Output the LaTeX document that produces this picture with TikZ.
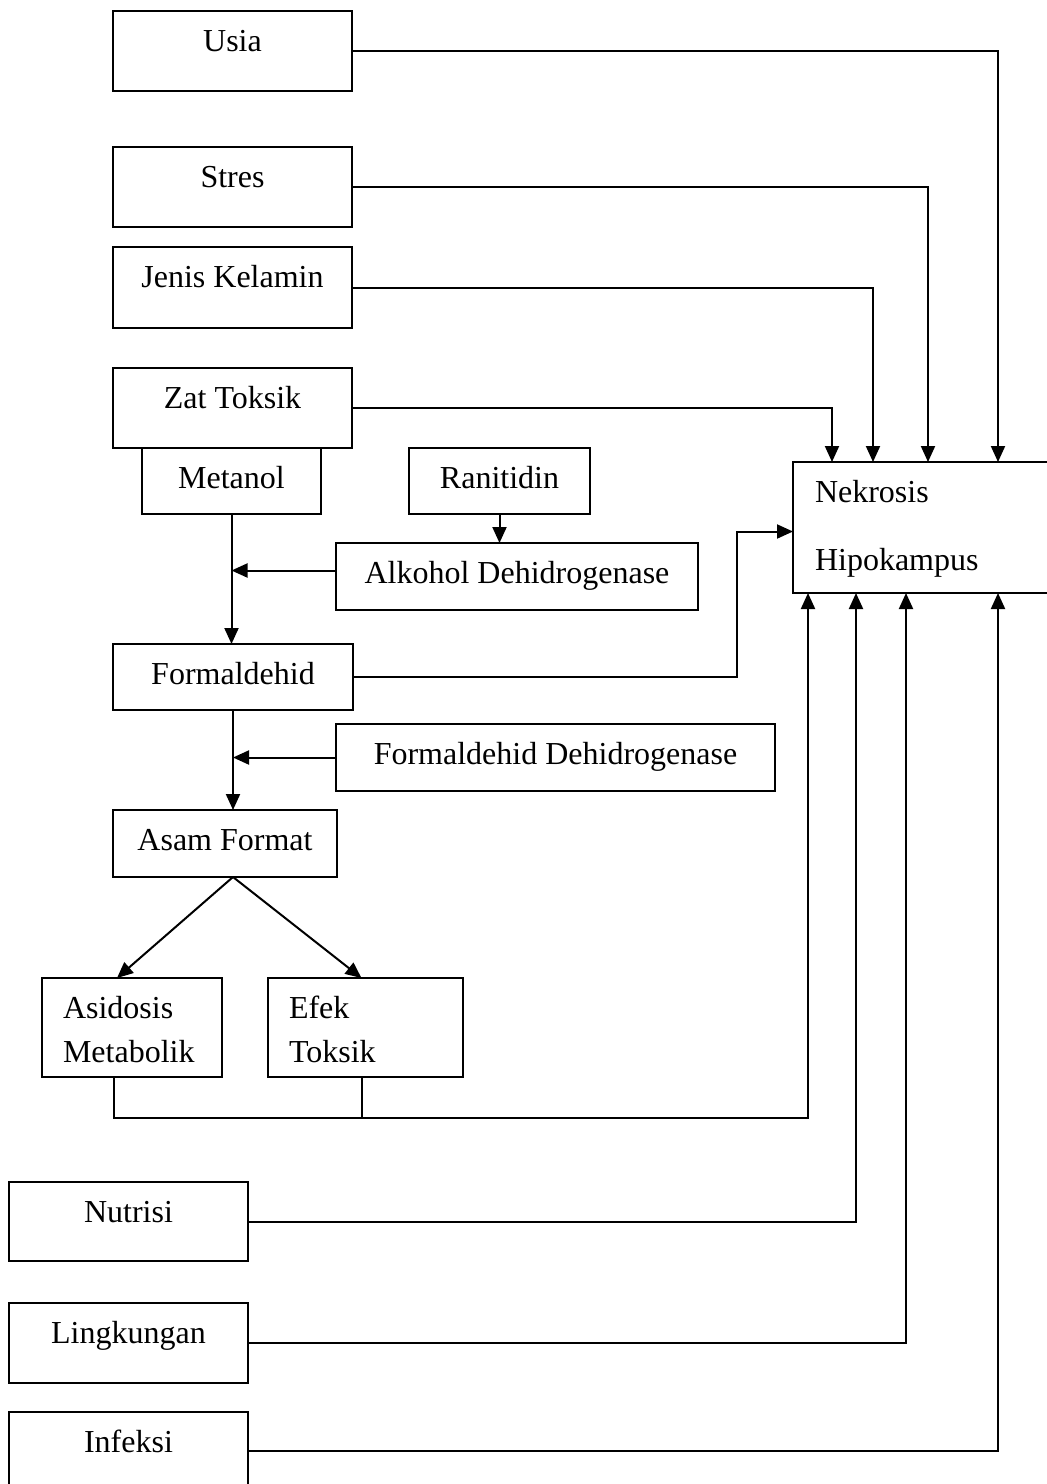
\documentclass[tikz,border=0pt]{standalone}
\usepackage{fontspec}
\setmainfont{Liberation Serif}
\usetikzlibrary{positioning, arrows.meta}
\tikzstyle{panah} = [line width=1pt, -{Triangle[length=8pt,width=7pt]}]

\begin{document}
\begin{tikzpicture}[
    x=0.5pt, y=-0.5pt, line width=1pt,
    font=\fontsize{16}{19.2}\selectfont,
    kotak/.style 2 args={draw, anchor=north west, inner sep=0pt, outer sep=0pt, minimum width=#1*0.5pt, text height=20pt, text depth=#2*0.5pt-20pt},
    kotak-kiri/.style n args={3}{kotak={#1}{#2}, inner xsep=#3, text width=#1*0.5pt-2*#3, align=left}
  ]
  \useasboundingbox (0,0) rectangle (1046,1484);

  \node[kotak={239}{80}] (usia) at (113,11) {Usia};
  \node[kotak={239}{80}] (stres) at (113,147) {Stres};
  \node[kotak={239}{81}] (jenis) at (113,247) {Jenis Kelamin};
  \node[kotak={239}{80}] (zat) at (113,368) {Zat Toksik};
  \node[kotak={179}{66}, below right=0pt and 14.5pt of zat.south west] (metanol) {Metanol};
  \node[kotak={181}{66}, right=44pt of metanol] (ranitidin) {Ranitidin};
  \node[kotak={362}{67}] (adh) at (336,543) {Alkohol Dehidrogenase};
  \node[kotak-kiri={300}{131}{11pt}, font=\fontsize{16}{34}\selectfont] (nekrosis) at (793,462) {Nekrosis\\Hipokampus};
  \node[kotak={240}{66}] (formal) at (113,644) {Formaldehid};
  \node[kotak={439}{67}] (fdh) at (336,724) {Formaldehid Dehidrogenase};
  \node[kotak={224}{67}] (asam) at (113,810) {Asam Format};
  \node[kotak-kiri={180}{99}{10.5pt}, font=\fontsize{16}{22}\selectfont] (asidosis) at (42,978) {Asidosis\\Metabolik};
  \node[kotak-kiri={195}{99}{10.5pt}, font=\fontsize{16}{22}\selectfont] (efek) at (268,978) {Efek\\Toksik};
  \node[kotak={239}{79}] (nutrisi) at (9,1182) {Nutrisi};
  \node[kotak={239}{80}] (lingkungan) at (9,1303) {Lingkungan};
  \node[kotak={239}{78}] (infeksi) at (9,1412) {Infeksi};

  \draw[panah] (usia.east) -| ([xshift=102.5pt]nekrosis.north west);
  \draw[panah] (stres.east) -| ([xshift=67.5pt]nekrosis.north west);
  \draw[panah] (jenis.east) -| ([xshift=40pt]nekrosis.north west);
  \draw[panah] (zat.east) -| ([xshift=19.5pt]nekrosis.north west);

  \draw[panah] (metanol.south) -- (metanol.south |- formal.north);
  \draw[panah] ([yshift=3pt]adh.west) -- ([yshift=3pt]adh.west -| metanol.south);
  \draw[panah] (ranitidin.south) -- (ranitidin.south |- adh.north);
  \draw[panah] (formal.east) -- ++(384,0) |- ([yshift=-2pt]nekrosis.west);
  \draw[panah] (formal.south) -- (formal.south |- asam.north);
  \draw[panah] (fdh.west) -- (fdh.west -| formal.south);
  \draw[panah] (asam.south -| formal.south) -- ([xshift=-7.5pt]asidosis.north);
  \draw[panah] (asam.south -| formal.south) -- ([xshift=-2pt]efek.north);

  \coordinate (sudut) at ([xshift=-9pt, yshift=-20.5pt]asidosis.south);
  \draw[panah] ([xshift=-9pt]asidosis.south) -- (sudut) -| ([xshift=7.5pt]nekrosis.south west);
  \draw ([xshift=-2pt]efek.south) -- ([xshift=-2pt]efek.south |- sudut);

  \draw[panah] (nutrisi.east) -| ([xshift=31.5pt]nekrosis.south west);
  \draw[panah] (lingkungan.east) -| ([xshift=56.5pt]nekrosis.south west);
  \draw[panah] (infeksi.east) -| ([xshift=102.5pt]nekrosis.south west);
\end{tikzpicture}
\end{document}
